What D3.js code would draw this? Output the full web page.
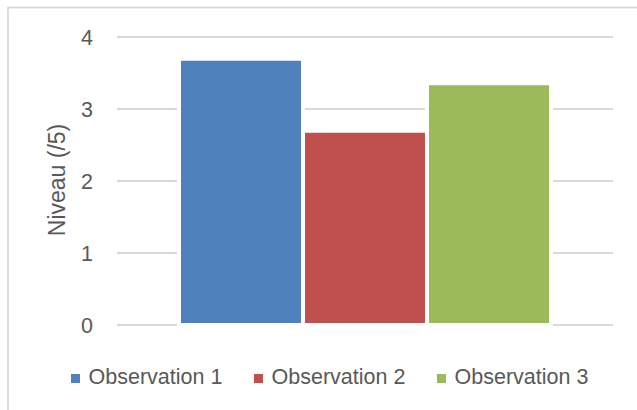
<!DOCTYPE html>
<html>
<head>
<meta charset="utf-8">
<script src="https://cdn.jsdelivr.net/npm/d3@7"></script>
<style>
  html, body { margin: 0; padding: 0; background: #fff; }
  svg { display: block; }
  text { font-family: "Liberation Sans", Arial, sans-serif; fill: #595959; }
</style>
</head>
<body>
<svg id="chart" width="637" height="410"></svg>
<script>
// Data
const categories = [""];
const seriesNames = ["Observation 1", "Observation 2", "Observation 3"];
const seriesValues = [3.67, 2.67, 3.33];
const seriesColors = ["#4F81BD", "#C0504D", "#9BBB59"];
const yTicks = [0, 1, 2, 3, 4];
const yTitle = "Niveau (/5)";

const svg = d3.select("#chart");
const W = 637, H = 410;

// Chart border (extends beyond picture on right/bottom)
svg.append("rect")
  .attr("x", 8).attr("y", 7.5).attr("width", 700).attr("height", 500)
  .attr("fill", "#fff").attr("stroke", "#D9D9D9").attr("stroke-width", 1.8);

const plot = { left: 117, right: 613, top: 37, bottom: 325 };

const y = d3.scaleLinear().domain([0, 4]).range([plot.bottom, plot.top]);
const x0 = d3.scaleBand().domain(categories).range([plot.left, plot.right])
  .paddingInner(0).paddingOuter(1 / 6);
const x1 = d3.scaleBand().domain(seriesNames).range([0, x0.bandwidth()]).padding(0);

// Gridlines
svg.append("g").selectAll("line").data(yTicks).join("line")
  .attr("x1", plot.left).attr("x2", plot.right)
  .attr("y1", d => y(d)).attr("y2", d => y(d))
  .attr("stroke", "#D9D9D9").attr("stroke-width", 1.8);

// Y axis tick labels via d3 axis
const yAxis = d3.axisLeft(y).tickValues(yTicks).tickFormat(d3.format("d")).tickSize(0).tickPadding(0);
const gy = svg.append("g").attr("transform", `translate(93,0)`).call(yAxis);
gy.select(".domain").remove();
gy.selectAll("text")
  .style("font-size", "21.5px")
  .attr("fill", "#595959")
  .attr("dy", "0.35em");

// Bars
const barData = seriesNames.map((s, i) => ({ name: s, value: seriesValues[i], color: seriesColors[i] }));
const gb = svg.append("g");
const bx = d => x0(categories[0]) + x1(d.name) + 2;
const bw = x1.bandwidth() - 4;

// White halos
gb.selectAll("rect.halo").data(barData).join("rect")
  .attr("class", "halo")
  .attr("x", d => bx(d) - 4)
  .attr("y", d => y(d.value) - 1)
  .attr("width", bw + 8)
  .attr("height", d => y(0) - y(d.value) + 3)
  .attr("fill", "#fff");

gb.selectAll("rect.bar").data(barData).join("rect")
  .attr("class", "bar")
  .attr("x", d => bx(d))
  .attr("y", d => y(d.value))
  .attr("width", bw)
  .attr("height", d => y(0) - 2 - y(d.value))
  .attr("fill", d => d.color);

// Y axis title
svg.append("text")
  .attr("transform", "translate(65,180) rotate(-90)")
  .attr("text-anchor", "middle")
  .style("font-size", "23px")
  .text(yTitle);

// Legend
const legendX = [71, 254, 437];
const lg = svg.append("g").selectAll("g").data(barData).join("g")
  .attr("transform", (d, i) => `translate(${legendX[i]},374)`);
lg.append("rect").attr("width", 9).attr("height", 9).attr("fill", d => d.color);
lg.append("text").attr("x", 17.5).attr("y", 10)
  .style("font-size", "21.5px")
  .text(d => d.name);
</script>
</body>
</html>
